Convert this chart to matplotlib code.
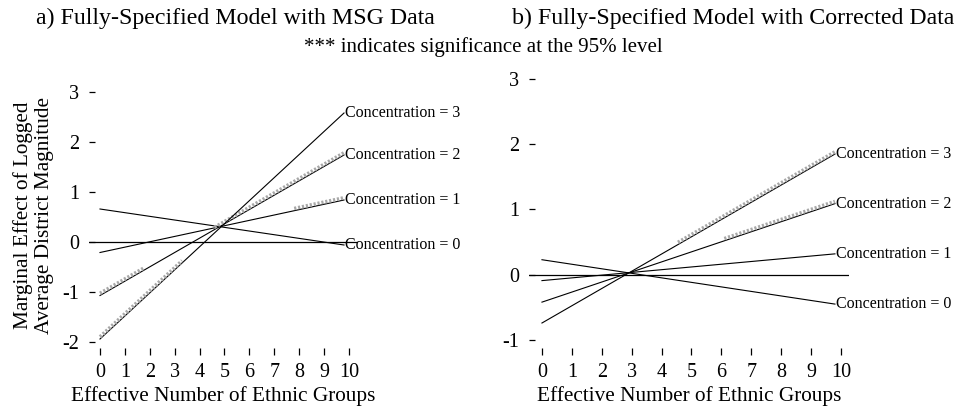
import numpy as np
import matplotlib
matplotlib.use('Agg')
import matplotlib.pyplot as plt
from matplotlib.transforms import offset_copy

plt.rcParams['font.family'] = ['Liberation Serif', 'DejaVu Serif']

# effective number of ethnic groups: line start / end
x_ends = [0, 9.8]
conc_levels = [0, 1, 2, 3]

# marginal effect at x=0 and x=9.8 for each concentration level
msg_start = [0.66, -0.21, -1.07, -1.94]
msg_end = [-0.06, 0.84, 1.74, 2.58]
cor_start = [0.23, -0.09, -0.42, -0.74]
cor_end = [-0.45, 0.32, 1.09, 1.85]

# ranges of x where the effect is significant (gray band)
msg_sig = {0: [], 1: [(7.8, 9.8)], 2: [(0, 1.75), (4.6, 9.8)], 3: [(0, 3.3)]}
cor_sig = {0: [], 1: [], 2: [(6.1, 9.8)], 3: [(4.55, 9.8)]}

xticks = np.arange(0, 11)

W, H = 958, 409
fig = plt.figure(figsize=(W / 100, H / 100), dpi=100)


def make_ax(left, right, bottom, top):
    return fig.add_axes([left / W, 1 - bottom / H, (right - left) / W, (bottom - top) / H])


ax1 = make_ax(88.8, 357.7, 348, 82)
ax2 = make_ax(529.1, 849, 347.8, 72.5)


def draw_panel(ax, starts, ends, sig, xlim, ylim, yticks):
    ax.axhline(0, color='k', lw=0.9)
    up = offset_copy(ax.transData, fig=fig, x=0, y=2.2, units='dots')
    for k, s, e in zip(conc_levels, starts, ends):
        ax.plot(x_ends, [s, e], color='k', lw=0.8)
        for a, b in sig[k]:
            ys = np.interp([a, b], x_ends, [s, e])
            ax.plot([a, b], ys, color='#a8a8a8', lw=2.6, ls=(0, (0.6, 0.5)),
                    transform=up, solid_capstyle='butt')
        ax.text(x_ends[1] + 0.05, e, 'Concentration = %d' % k, fontsize=11.5,
                ha='left', va='center')
    ax.set_xlim(*xlim)
    ax.set_ylim(*ylim)
    ax.set_xticks(xticks)
    ax.set_yticks(yticks)
    ax.set_yticklabels([str(v) for v in yticks])
    for sp in ax.spines.values():
        sp.set_visible(False)
    ax.tick_params(axis='x', direction='out', length=5, width=0.9, pad=6, labelsize=14.5)
    ax.tick_params(axis='y', direction='in', length=4, width=0.9, pad=7, labelsize=14.5)
    ax.set_xlabel('Effective Number of Ethnic Groups', fontsize=15.3, labelpad=3)
    ax.patch.set_alpha(0)


draw_panel(ax1, msg_start, msg_end, msg_sig, (-0.45, 10.35), (-2.12, 3.2), [-2, -1, 0, 1, 2, 3])
draw_panel(ax2, cor_start, cor_end, cor_sig, (-0.43, 10.27), (-1.12, 3.1), [-1, 0, 1, 2, 3])

ax1.set_ylabel('Marginal Effect of Logged\nAverage District Magnitude', fontsize=15.3,
               labelpad=6, linespacing=1.1)

fig.text(235 / W, 1 - 18 / H, 'a) Fully-Specified Model with MSG Data', fontsize=17.2,
         ha='center', va='center')
fig.text(733 / W, 1 - 18 / H, 'b) Fully-Specified Model with Corrected Data', fontsize=17.2,
         ha='center', va='center')
fig.text(483 / W, 1 - 47 / H, '*** indicates significance at the 95% level', fontsize=15,
         ha='center', va='center')

plt.savefig('out.png', dpi=100)
